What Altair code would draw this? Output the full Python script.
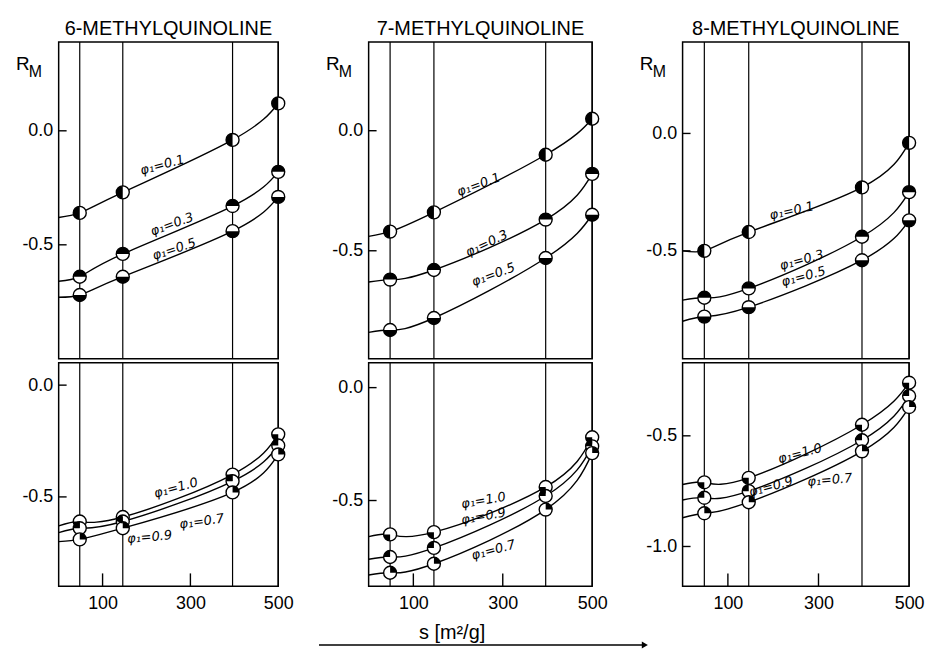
import altair as alt
import pandas as pd

FONT = "Liberation Sans"

# surface areas of the adsorbents (x positions of the measurements)
S = [48, 146, 396, 500]
X_TICKS = [100, 300]
X_LABELS = [100, 300, 500]

TITLES = ["6-METHYLQUINOLINE", "7-METHYLQUINOLINE", "8-METHYLQUINOLINE"]

# R_M values, upper panels (phi1 = 0.1, 0.3, 0.5)
RM6_TOP = {"0.1": [-0.36, -0.27, -0.04, 0.12],
           "0.3": [-0.64, -0.54, -0.33, -0.18],
           "0.5": [-0.72, -0.64, -0.44, -0.29]}
RM7_TOP = {"0.1": [-0.42, -0.34, -0.10, 0.05],
           "0.3": [-0.62, -0.58, -0.37, -0.18],
           "0.5": [-0.83, -0.78, -0.53, -0.35]}
RM8_TOP = {"0.1": [-0.50, -0.42, -0.23, -0.04],
           "0.3": [-0.70, -0.66, -0.44, -0.25],
           "0.5": [-0.78, -0.74, -0.54, -0.37]}

# R_M values, lower panels (phi1 = 1.0, 0.9, 0.7)
RM6_BOT = {"1.0": [-0.61, -0.59, -0.40, -0.22],
           "0.9": [-0.64, -0.61, -0.43, -0.27],
           "0.7": [-0.69, -0.64, -0.48, -0.31]}
RM7_BOT = {"1.0": [-0.65, -0.64, -0.44, -0.22],
           "0.9": [-0.75, -0.71, -0.48, -0.26],
           "0.7": [-0.82, -0.78, -0.54, -0.29]}
RM8_BOT = {"1.0": [-0.71, -0.69, -0.45, -0.26],
           "0.9": [-0.78, -0.75, -0.52, -0.32],
           "0.7": [-0.85, -0.80, -0.57, -0.37]}

# where each fitted curve meets the left frame (s = 0)
START6_TOP = {"0.1": -0.38, "0.3": -0.66, "0.5": -0.73}
START7_TOP = {"0.1": -0.44, "0.3": -0.63, "0.5": -0.84}
START8_TOP = {"0.1": -0.50, "0.3": -0.71, "0.5": -0.80}
START6_BOT = {"1.0": -0.63, "0.9": -0.66, "0.7": -0.70}
START7_BOT = {"1.0": -0.66, "0.9": -0.76, "0.7": -0.83}
START8_BOT = {"1.0": -0.72, "0.9": -0.79, "0.7": -0.87}

# curve labels: phi, s, R_M, rotation (degrees)
LBL6_TOP = [("0.1", 236, -0.15, 345), ("0.3", 258, -0.41, 340), ("0.5", 263, -0.52, 342)]
LBL7_TOP = [("0.1", 246, -0.225, 340), ("0.3", 264, -0.47, 335), ("0.5", 279, -0.60, 340)]
LBL8_TOP = [("0.1", 241, -0.33, 348), ("0.3", 263, -0.54, 345), ("0.5", 267, -0.61, 345)]
LBL6_BOT = [("1.0", 267, -0.46, 345), ("0.9", 207, -0.68, 355), ("0.7", 326, -0.61, 352)]
LBL7_BOT = [("1.0", 257, -0.50, 350), ("0.9", 257, -0.57, 350), ("0.7", 279, -0.72, 345)]
LBL8_BOT = [("1.0", 259, -0.58, 345), ("0.9", 195, -0.73, 345), ("0.7", 325, -0.70, 355)]

# half / quarter filled circle symbols
SHAPES = {
    "0.1": "M0,-1A1,1,0,0,0,0,1Z",          # left half
    "0.3": "M-1,0A1,1,0,0,1,1,0Z",          # top half
    "0.5": "M-1,0A1,1,0,0,0,1,0Z",          # bottom half
    "1.0": "M0,0L-1,0A1,1,0,0,0,0,1Z",      # lower-left quarter
    "0.9": "M0,0L0,-1A1,1,0,0,0,-1,0Z",     # upper-left quarter
    "0.7": "M0,0L1,0A1,1,0,0,0,0,-1Z",      # upper-right quarter
}

Y_TOP_DOM = [[-1.0, 0.39], [-0.95, 0.37], [-0.96, 0.39]]
Y_BOT_DOM = [[-0.9, 0.1], [-0.88, 0.11], [-1.18, -0.17]]
Y_TOP_VALS = [[0.0, -0.5], [0.0, -0.5], [0.0, -0.5]]
Y_BOT_VALS = [[0.0, -0.5], [0.0, -0.5], [-0.5, -1.0]]
WIDTHS = [221, 225, 228]
H_TOP = 319
H_BOT = 225

LABEL_EXPR = "datum.value == 0 ? '0.0' : '-' + format(abs(datum.value), '.1f')"


def panel(rm, start, lbl, width, height, ydom, yvals, title=None, xaxis=False, arrow=False, spacer=False):
    pts = pd.DataFrame([{"s": s, "rm": v, "phi": p, "shape": SHAPES[p]}
                        for p, vals in rm.items() for s, v in zip(S, vals)])
    lines = pd.DataFrame([{"s": 0, "rm": start[p], "phi": p} for p in rm] +
                         [{"s": s, "rm": v, "phi": p} for p, vals in rm.items() for s, v in zip(S, vals)])
    lab = pd.DataFrame([{"t": "φ₁=" + p, "s": s, "rm": r, "a": a} for p, s, r, a in lbl])

    xs = alt.Scale(domain=[0, 500], nice=False, zero=False)
    ys = alt.Scale(domain=ydom, nice=False, zero=False)
    if xaxis:
        xax = alt.Axis(values=X_LABELS, ticks=False, domain=False, grid=False, labelFontSize=18,
                       labelPadding=8, title=None, labelFont=FONT, labelColor="black", labelFlush=False)
    else:
        xax = None
    yax = alt.Axis(values=yvals, ticks=False, domain=False, grid=False, labelFontSize=18,
                   labelPadding=6, title=None, labelExpr=LABEL_EXPR, labelFont=FONT, labelColor="black")

    def X():
        return alt.X("s:Q", scale=xs, axis=xax)

    def Y():
        return alt.Y("rm:Q", scale=ys, axis=yax)

    layers = []
    layers.append(alt.Chart(pd.DataFrame({"s": S})).mark_rule(color="black", strokeWidth=1.2).encode(x=X()))
    layers.append(alt.Chart(pd.DataFrame({"rm": yvals})).mark_rule(color="black", strokeWidth=1.4)
                  .encode(y=Y(), x=alt.value(0), x2=alt.value(8)))
    if xaxis:
        layers.append(alt.Chart(pd.DataFrame({"s": X_TICKS})).mark_rule(color="black", strokeWidth=1.4)
                      .encode(x=X(), y=alt.value(height), y2=alt.value(height - 13)))
    layers.append(alt.Chart(lines).mark_line(interpolate="natural", color="black", strokeWidth=1.4)
                  .encode(x=X(), y=Y(), detail="phi:N", order="s:Q"))
    layers.append(alt.Chart(pts).mark_point(shape="circle", filled=True, fill="white", stroke="black",
                                            strokeWidth=1.4, size=170, opacity=1)
                  .encode(x=X(), y=Y()))
    layers.append(alt.Chart(pts).mark_point(filled=True, fill="black", size=170, opacity=1, strokeWidth=0)
                  .encode(x=X(), y=Y(), shape=alt.Shape("shape:N", scale=None)))
    layers.append(alt.Chart(lab).mark_text(fontSize=13, fontStyle="italic", font="DejaVu Sans", color="black")
                  .encode(x=X(), y=Y(), text="t:N", angle=alt.Angle("a:Q", scale=None)))
    if title is not None or spacer:
        op = 1 if title is not None else 0
        layers.append(alt.Chart(pd.DataFrame({"t": ["R"]})).mark_text(fontSize=19, font=FONT, align="left",
                                                                      baseline="alphabetic", color="black",
                                                                      opacity=op)
                      .encode(x=alt.value(-43), y=alt.value(28), text="t:N"))
    if title is not None:
        layers.append(alt.Chart(pd.DataFrame({"t": ["M"]})).mark_text(fontSize=16, font=FONT, align="left",
                                                                      baseline="alphabetic", color="black")
                      .encode(x=alt.value(-30), y=alt.value(35), text="t:N"))
        layers.append(alt.Chart(pd.DataFrame({"t": [title]})).mark_text(fontSize=20, font=FONT, align="center",
                                                                        baseline="alphabetic", color="black",
                                                                        fontWeight="normal")
                      .encode(x=alt.value(width / 2), y=alt.value(-7), text="t:N"))
    if arrow:
        layers.append(alt.Chart(pd.DataFrame({"t": ["s   [m²/g]"]})).mark_text(fontSize=20, font=FONT,
                                                                              align="center", baseline="alphabetic",
                                                                              color="black")
                      .encode(x=alt.value(84), y=alt.value(278), text="t:N"))
        layers.append(alt.Chart(pd.DataFrame({"t": ["a"]})).mark_rule(color="black", strokeWidth=1.5)
                      .encode(x=alt.value(-50), x2=alt.value(276), y=alt.value(284)))
        layers.append(alt.Chart(pd.DataFrame({"t": ["a"]})).mark_point(shape="triangle-right", filled=True,
                                                                       fill="black", size=50, opacity=1)
                      .encode(x=alt.value(278), y=alt.value(284)))

    return alt.layer(*layers).properties(width=width, height=height)


TOPS = [(RM6_TOP, START6_TOP, LBL6_TOP), (RM7_TOP, START7_TOP, LBL7_TOP), (RM8_TOP, START8_TOP, LBL8_TOP)]
BOTS = [(RM6_BOT, START6_BOT, LBL6_BOT), (RM7_BOT, START7_BOT, LBL7_BOT), (RM8_BOT, START8_BOT, LBL8_BOT)]

top_row = [panel(*TOPS[i], WIDTHS[i], H_TOP, Y_TOP_DOM[i], Y_TOP_VALS[i], title=TITLES[i]) for i in range(3)]
bot_row = [panel(*BOTS[i], WIDTHS[i], H_BOT, Y_BOT_DOM[i], Y_BOT_VALS[i], xaxis=True,
                 arrow=(i == 1), spacer=(i == 0)) for i in range(3)]

chart = alt.vconcat(
    alt.hconcat(*top_row, spacing=91, bounds="flush"),
    alt.hconcat(*bot_row, spacing=91, bounds="flush"),
    spacing=0,
).properties(
    padding={"left": 7, "top": 8, "right": 0, "bottom": 0}
).configure_view(stroke="black", strokeWidth=1.5)

chart.save("out.html", embed_options={"renderer": "svg", "actions": False})
